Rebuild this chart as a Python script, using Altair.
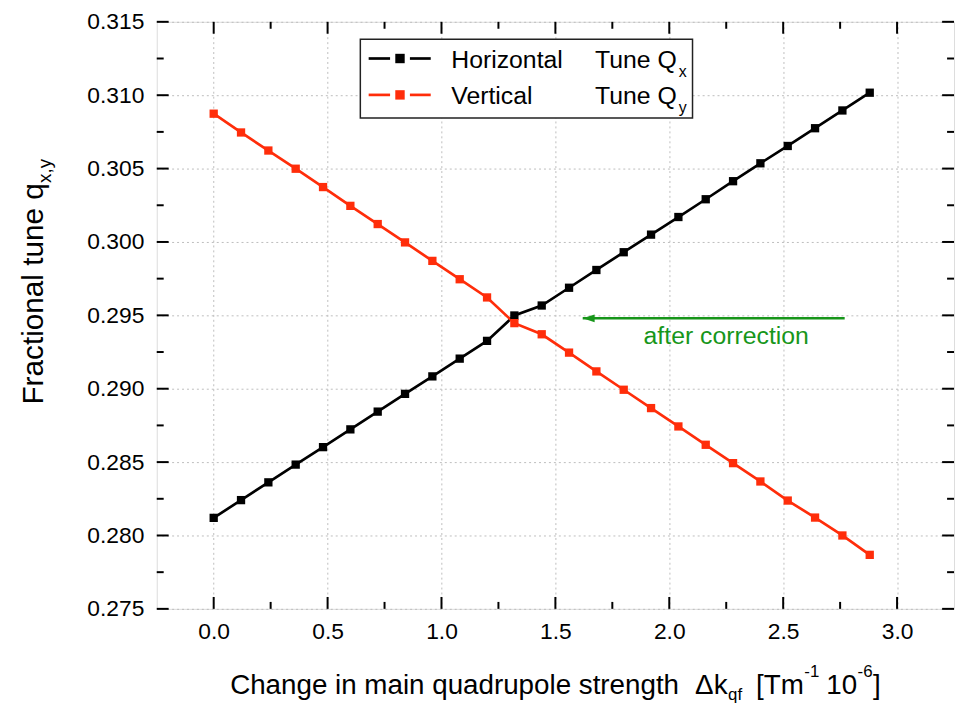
import altair as alt
import pandas as pd

# ---------------- data ----------------
dk = [0.00, 0.12, 0.24, 0.36, 0.48, 0.60, 0.72, 0.84, 0.96, 1.08, 1.20, 1.32,
      1.44, 1.56, 1.68, 1.80, 1.92, 2.04, 2.16, 2.28, 2.40, 2.52, 2.64, 2.76, 2.88]
qx = [0.2812, 0.28241, 0.28362, 0.28483, 0.28602, 0.28723, 0.28844, 0.28965,
      0.29084, 0.29205, 0.29326, 0.29499, 0.29567, 0.29688, 0.29809, 0.2993,
      0.3005, 0.3017, 0.30291, 0.30414, 0.30536, 0.30654, 0.30775, 0.30896, 0.31017]
qy = [0.30874, 0.30746, 0.30623, 0.30499, 0.30374, 0.30246, 0.30122, 0.29997,
      0.29871, 0.29746, 0.29622, 0.29447, 0.29371, 0.29246, 0.29118, 0.28993,
      0.28868, 0.28743, 0.28618, 0.28493, 0.28368, 0.28238, 0.28122, 0.28000, 0.27868]
series = ["Horizontal", "Vertical"]
colors = ["#000000", "#ff2d0a"]

x_major = [0.0, 0.5, 1.0, 1.5, 2.0, 2.5, 3.0]
x_minor = [0.25, 0.75, 1.25, 1.75, 2.25, 2.75]
y_major = [0.275, 0.28, 0.285, 0.29, 0.295, 0.3, 0.305, 0.31, 0.315]
y_minor = [0.2775, 0.2825, 0.2875, 0.2925, 0.2975, 0.3025, 0.3075, 0.3125]

arrow_x = [1.62, 2.77]
arrow_y = 0.2948
note_x = 2.25
note_y = 0.29306
note_text = "after correction"
GREEN = "#17961a"

FONT = "Liberation Sans"
W, H = 804, 592
TOP = 11

df = pd.DataFrame({
    "dk": dk * 2,
    "q": qx + qy,
    "s": [series[0]] * len(dk) + [series[1]] * len(dk),
})

xs = alt.Scale(domain=[-0.25, 3.25], nice=False, zero=False)
ys = alt.Scale(domain=[0.275, 0.315], nice=False, zero=False)
cs = alt.Scale(domain=series, range=colors)

xaxis = alt.Axis(values=x_major, format=".1f", ticks=False, tickSize=0, domain=False,
                 labelFontSize=23, labelPadding=12, labelColor="black", labelFont=FONT,
                 grid=True, gridDash=[2, 3], gridColor="#bdbdbd", gridWidth=1)
yaxis = alt.Axis(values=y_major, format=".3f", ticks=False, tickSize=0, domain=False,
                 labelFontSize=23, labelPadding=13, labelColor="black", labelFont=FONT,
                 grid=True, gridDash=[2, 3], gridColor="#bdbdbd", gridWidth=1)

base = alt.Chart(df)
lines = base.mark_line(strokeWidth=2.7).encode(
    x=alt.X("dk:Q", scale=xs, axis=xaxis, title=""),
    y=alt.Y("q:Q", scale=ys, axis=yaxis, title=""),
    color=alt.Color("s:N", scale=cs, legend=None),
    detail="s:N",
)
points = base.mark_square(size=70, opacity=1).encode(
    x=alt.X("dk:Q", scale=xs),
    y=alt.Y("q:Q", scale=ys),
    color=alt.Color("s:N", scale=cs, legend=None),
)

# ---------------- inward ticks ----------------
def tick_layers(vals, axis, length):
    d = pd.DataFrame({"v": vals})
    c = alt.Chart(d).mark_rule(color="black", strokeWidth=2)
    if axis == "x":
        return [
            c.encode(x=alt.X("v:Q", scale=xs), y=alt.value(H), y2=alt.value(H - length)),
            c.encode(x=alt.X("v:Q", scale=xs), y=alt.value(0), y2=alt.value(length)),
        ]
    return [
        c.encode(y=alt.Y("v:Q", scale=ys), x=alt.value(0), x2=alt.value(length)),
        c.encode(y=alt.Y("v:Q", scale=ys), x=alt.value(W), x2=alt.value(W - length)),
    ]

ticks = (tick_layers(x_major, "x", 12) + tick_layers(x_minor, "x", 7)
         + tick_layers(y_major, "y", 12) + tick_layers(y_minor, "y", 7))

# ---------------- text helpers ----------------
one = pd.DataFrame({"k": [0]})
AW = {' ': 278, 'F': 611, 'r': 333, 'a': 556, 'c': 500, 't': 278, 'i': 222, 'o': 556,
      'n': 556, 'l': 222, 'u': 556, 'e': 556, 'q': 556, 'C': 722, 'h': 556, 'g': 556,
      'm': 833, 'd': 556, 'p': 556, 's': 500, 'Δ': 668, 'k': 500, 'f': 278, '[': 278,
      ']': 278, 'T': 611, '1': 556, '0': 556, '-': 333, '6': 556, 'x': 500, 'y': 500,
      ',': 278, 'H': 722, 'z': 500, 'V': 667, 'Q': 778}


def tw(s, size):
    return sum(AW.get(ch, 556) for ch in s) * size / 1000.0


def txt(s, x, y, size, color="black", angle=None, align="left", baseline="alphabetic"):
    kw = dict(text=s, fontSize=size, color=color, align=align, baseline=baseline, font=FONT)
    if angle is not None:
        kw["angle"] = angle
    return alt.Chart(one).mark_text(**kw).encode(x=alt.value(x), y=alt.value(y))


texts = []
# x-axis title with sub/superscripts: (text, size, baseline shift, gap before)
pieces = [("Change in main quadrupole strength", 28, 0, 0),
          ("Δk", 28, 0, 16),
          ("qf", 17, 6, 0.5),
          ("[Tm", 28, 0, 14),
          ("-1", 17, -17, 0.5),
          ("10", 28, 0, 7),
          ("-6", 17, -17, 0.5),
          ("]", 28, 0, 0.5)]
cx = 74.0
base_y = 697.0 - 8 - TOP
for s, sz, dy, gap in pieces:
    cx += gap
    texts.append(txt(s, cx, base_y + dy, sz))
    cx += tw(s, sz)

# y-axis title (rotated)
ymain = "Fractional tune q"
yx, yy = 43.3 - 158, 405.0 - 8 - TOP
texts.append(txt(ymain, yx, yy, 30, angle=270))
texts.append(txt("x,y", yx + 8, yy - tw(ymain, 30), 19, angle=270))

# legend (page coords -> chart coords)
def py(v):
    return v - 8 - TOP

leg = [alt.Chart(one).mark_rect(fill="white", stroke="#222222", strokeWidth=1.5).encode(
    x=alt.value(205.3), x2=alt.value(540.3), y=alt.value(py(36.7)), y2=alt.value(py(116)))]
rows = [(py(56.0), series[0], "x", colors[0]), (py(92.7), series[1], "y", colors[1])]
for ry, name, sub, col in rows:
    r = alt.Chart(one).mark_rule(color=col, strokeWidth=2.7)
    leg.append(r.encode(x=alt.value(213.7), x2=alt.value(235.3), y=alt.value(ry)))
    leg.append(r.encode(x=alt.value(255.3), x2=alt.value(276.3), y=alt.value(ry)))
    leg.append(alt.Chart(one).mark_square(size=90, color=col, opacity=1).encode(
        x=alt.value(245.3), y=alt.value(ry)))
    leg.append(txt(name, 297, ry + 9.5, 25))
    leg.append(txt("Tune Q", 442, ry + 9.5, 25))
    leg.append(txt(sub, 442 + tw("Tune Q", 25) + 1, ry + 18.5, 16))

# annotation arrow
adf = pd.DataFrame({"x1": [arrow_x[0]], "x2": [arrow_x[1]], "y": [arrow_y]})
arrow_line = alt.Chart(adf).mark_rule(color=GREEN, strokeWidth=2.5).encode(
    x=alt.X("x1:Q", scale=xs), x2="x2:Q", y=alt.Y("y:Q", scale=ys))
arrow_head = alt.Chart(adf).mark_point(
    shape="M 0 0 L 2 -0.65 L 2 0.65 Z", filled=True, size=144, color=GREEN, opacity=1
).encode(x=alt.X("x1:Q", scale=xs), y=alt.Y("y:Q", scale=ys))
ndf = pd.DataFrame({"x": [note_x], "y": [note_y], "t": [note_text]})
note = alt.Chart(ndf).mark_text(fontSize=25, color=GREEN, align="center",
                                baseline="alphabetic", font=FONT).encode(
    x=alt.X("x:Q", scale=xs), y=alt.Y("y:Q", scale=ys), text="t:N")

chart = alt.layer(
    lines, points, *ticks, arrow_line, arrow_head, note, *leg, *texts
).properties(
    width=W, height=H,
    autosize=alt.AutoSizeParams(type="none"),
    padding={"left": 150, "top": TOP, "right": 2, "bottom": 92},
).configure_view(
    stroke="black", strokeWidth=2
).configure(font=FONT)

chart.save("out.html", embed_options={"renderer": "svg", "actions": False})
